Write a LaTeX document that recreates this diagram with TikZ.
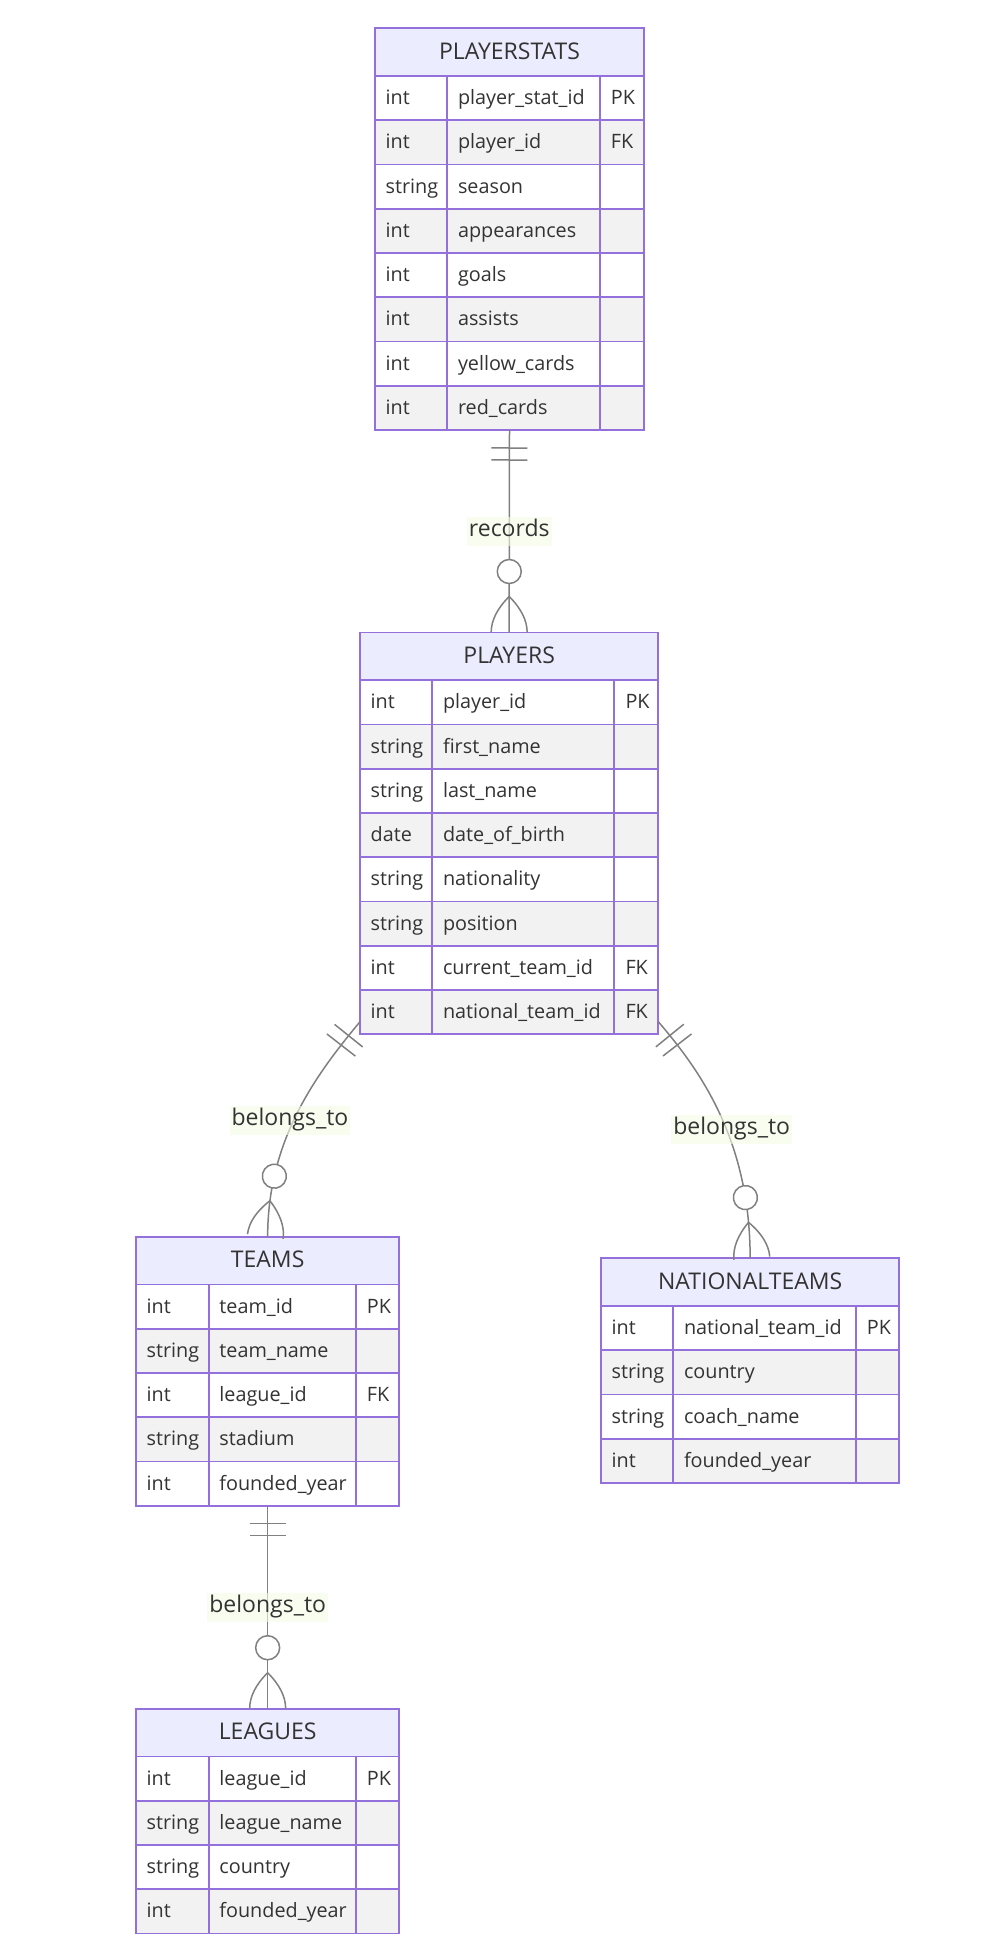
\documentclass[tikz,border=0pt]{standalone}
\usepackage{fontspec}
\setmainfont{Open Sans}
\usetikzlibrary{calc,decorations.markings}
\definecolor{bd}{HTML}{9370DB}
\definecolor{hd}{HTML}{ECECFF}
\definecolor{rowg}{HTML}{F2F2F2}
\definecolor{txt}{HTML}{333333}
\definecolor{rel}{HTML}{808080}
\definecolor{lbl}{HTML}{F6FCE6}
\newcommand{\erfs}{\fontsize{19.8}{24}\selectfont}
\newcommand{\erhfs}{\fontsize{23}{27}\selectfont}
\tikzset{
  tblbox/.style={draw=none, inner sep=0pt, outer sep=0pt, anchor=north west},
  gridline/.style={draw=bd, line width=1.8pt},
  celltxt/.style={text=txt, inner sep=0pt, anchor=base west, font=\erfs},
  hdrtxt/.style={text=txt, inner sep=0pt, anchor=base, font=\erhfs},
  rel/.style={draw=rel, line width=1.5pt},
  rellabel/.style={fill=lbl, fill opacity=0.6, text opacity=1, text=txt, font=\erhfs,
    inner xsep=2pt, inner ysep=4pt, text height=16pt, text depth=5pt},
  onlyone/.style={postaction={decorate, decoration={markings,
    mark=at position 18pt with {\draw[rel] (0pt,-18pt) -- (0pt,18pt);},
    mark=at position 30pt with {\draw[rel] (0pt,-18pt) -- (0pt,18pt);}}}},
  zeromany/.style={postaction={decorate, decoration={markings,
    mark=at position -36pt with {\draw[rel] (0pt,0pt) .. controls (12pt,12pt) and (24pt,18pt) .. (36pt,18pt);
      \draw[rel] (0pt,0pt) .. controls (12pt,-12pt) and (24pt,-18pt) .. (36pt,-18pt);},
    mark=at position -61pt with {\draw[rel, fill=white] (0pt,0pt) circle (12pt);}}}}
}
\newcommand{\ertable}[9]{%
  \pgfmathsetmacro{\erHB}{#6+47.7}%
  \pgfmathsetmacro{\erYB}{#6+47.7+#8*44.25}%
  \pgfmathsetmacro{\erW}{#5-#2}%
  \pgfmathsetmacro{\erH}{\erYB-#6}%
  \node[tblbox, minimum width=\erW pt, minimum height=\erH pt] (#1) at (#2,#6) {};
  \fill[hd] (#2,#6) rectangle (#5,\erHB);
  \node[hdrtxt] (#1-title) at ({(#2+#5)/2},{#6+31}) {#7};
  \foreach \ty/\nm/\ky [count=\i] in {#9} {
    \pgfmathsetmacro{\erYA}{\erHB+(\i-1)*44.25}
    \pgfmathsetmacro{\erYZ}{\erYA+44.25}
    \ifodd\i \fill[white] (#2,\erYA) rectangle (#5,\erYZ); \else \fill[rowg] (#2,\erYA) rectangle (#5,\erYZ); \fi
    \node[celltxt] (#1-t\i) at ({#2+10.5},{\erYA+28.6}) {\ty};
    \node[celltxt] (#1-n\i) at ({#3+10.5},{\erYA+28.6}) {\nm};
    \node[celltxt] (#1-k\i) at ({#4+11},{\erYA+28.6}) {\ky};
  }
  \foreach \k in {0,...,#8} {
    \draw[gridline] (#2,{\erHB+\k*44.25}) -- (#5,{\erHB+\k*44.25});
  }
  \draw[gridline] (#3,\erHB) -- (#3,\erYB);
  \draw[gridline] (#4,\erHB) -- (#4,\erYB);
  \draw[gridline] (#2,#6) rectangle (#5,\erYB);
}
\begin{document}
\begin{tikzpicture}[x=1pt,y=-1pt]
\useasboundingbox (0,0) rectangle (992,1942);
\fill[white] (0,0) rectangle (992,1942);

\ertable{PS}{375}{447.3}{599.7}{644}{28.3}{PLAYERSTATS}{8}{int/player\_stat\_id/PK, int/player\_id/FK, string/season/{}, int/appearances/{}, int/goals/{}, int/assists/{}, int/yellow\_cards/{}, int/red\_cards/{}}

\ertable{PL}{360}{432.3}{614.3}{658.3}{632.5}{PLAYERS}{8}{int/player\_id/PK, string/first\_name/{}, string/last\_name/{}, date/date\_of\_birth/{}, string/nationality/{}, string/position/{}, int/current\_team\_id/FK, int/national\_team\_id/FK}

\ertable{TM}{136}{208.7}{355.7}{399.3}{1236.7}{TEAMS}{5}{int/team\_id/PK, string/team\_name/{}, int/league\_id/FK, string/stadium/{}, int/founded\_year/{}}

\ertable{NT}{601}{673.3}{855.7}{899.3}{1258.3}{NATIONALTEAMS}{4}{int/national\_team\_id/PK, string/country/{}, string/coach\_name/{}, int/founded\_year/{}}

\ertable{LG}{136}{208.7}{355.7}{399.3}{1708.7}{LEAGUES}{4}{int/league\_id/PK, string/league\_name/{}, string/country/{}, int/founded\_year/{}}

\coordinate (PLl) at ($(PL.south west)+(0,-12.5)$);
\coordinate (PLr) at ($(PL.south east)+(0,-12.5)$);

\draw[rel, onlyone, zeromany] (PS.south) -- (PL.north);
\draw[rel, onlyone, zeromany] (PLl) .. controls +(-44,53) and +(0,-97) .. (TM.north);
\draw[rel, onlyone, zeromany] (PLr) .. controls +(42,49) and +(0,-118) .. (NT.north);
\draw[rel, onlyone, zeromany] (TM.south) -- (LG.north);

\node[rellabel] (L1) at (509.3,531) {records};
\node[rellabel] (L2) at (290,1120) {belongs\_to};
\node[rellabel] (L3) at (731.7,1129) {belongs\_to};
\node[rellabel] (L4) at (267.7,1607) {belongs\_to};
\end{tikzpicture}
\end{document}
